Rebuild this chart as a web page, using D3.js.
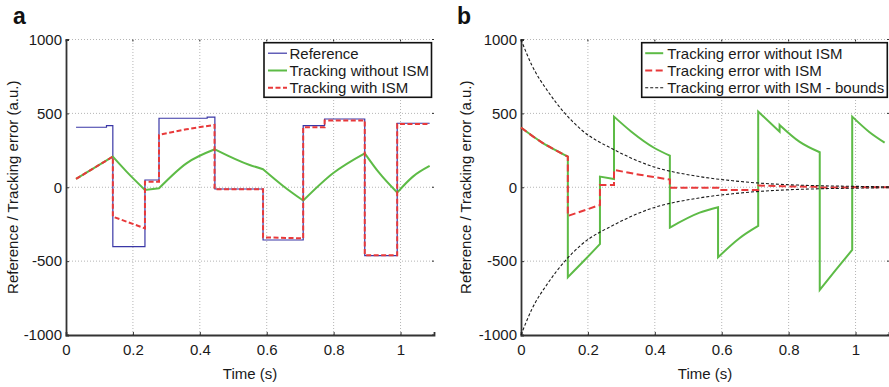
<!DOCTYPE html>
<html>
<head>
<meta charset="utf-8">
<script src="https://cdn.jsdelivr.net/npm/d3@7"></script>
<style>
  html, body { margin: 0; padding: 0; background: #fff; }
  svg { display: block; font-family: "Liberation Sans", Arial, Helvetica, sans-serif; }
</style>
</head>
<body>
<svg id="chart" width="889" height="387"></svg>
<script>
// Axis ticks shared by both panels
const timeTicks = [0, 0.2, 0.4, 0.6, 0.8, 1];
const valueTicks = [-1000, -500, 0, 500, 1000];

// Panel a: reference signal (step changes) and tracked outputs
const referenceA = [
  [0.03, 406], [0.121, 406], [0.121, 417], [0.14, 417], [0.14, -402], [0.236, -402],
  [0.236, 49], [0.278, 49], [0.278, 467], [0.422, 467], [0.422, 474], [0.445, 474],
  [0.445, -12], [0.589, -12], [0.589, -357], [0.709, -357], [0.709, 417], [0.773, 417],
  [0.773, 462], [0.893, 462], [0.893, -463], [0.99, -463], [0.99, 433], [1.087, 433]
];
// smooth pieces; consecutive pieces are joined by straight segments
const trackingNoIsmA = [
  [[0.03, 56], [0.082, 128], [0.14, 207]],
  [[0.14, 207], [0.181, 106], [0.236, -18]],
  [[0.236, -18], [0.278, -7]],
  [[0.278, -7], [0.36, 162], [0.445, 257]],
  [[0.445, 257], [0.549, 151], [0.589, 122]],
  [[0.589, 122], [0.649, 9], [0.709, -90]],
  [[0.709, -90], [0.798, 95], [0.893, 230]],
  [[0.893, 230], [0.937, 95], [0.99, -36]],
  [[0.99, -36], [1.037, 72], [1.087, 144]]
];
const trackingIsmA = [
  [[0.03, 56], [0.082, 128], [0.14, 207]],
  [[0.14, -199], [0.236, -278]],
  [[0.236, 38], [0.278, 38]],
  [[0.278, 354], [0.36, 392], [0.444, 422]],
  [[0.444, -14], [0.589, -14]],
  [[0.589, -339], [0.709, -346]],
  [[0.709, 406], [0.773, 406]],
  [[0.773, 451], [0.893, 451]],
  [[0.893, -460], [0.99, -460]],
  [[0.99, 428], [1.087, 428]]
];

// Panel b: tracking errors and the error bounds with ISM
const errorNoIsmB = [
  [[0, 404], [0.062, 304], [0.121, 230], [0.14, 207]],
  [[0.14, -609], [0.186, -503], [0.236, -384]],
  [[0.236, 72], [0.278, 56]],
  [[0.278, 478], [0.33, 376], [0.4, 264], [0.445, 214]],
  [[0.445, -273], [0.534, -172], [0.589, -135]],
  [[0.589, -474], [0.653, -345], [0.709, -262]],
  [[0.709, 512], [0.773, 376]],
  [[0.773, 422], [0.832, 309], [0.893, 237]],
  [[0.893, -695], [0.941, -560], [0.99, -424]],
  [[0.99, 478], [1.04, 376], [1.087, 302]]
];
const errorIsmB = [
  [[0, 404], [0.062, 304], [0.121, 230], [0.14, 207]],
  [[0.14, -194], [0.236, -120]],
  [[0.236, 16], [0.278, 16]],
  [[0.278, 117], [0.355, 85], [0.445, 52]],
  [[0.445, -3], [0.589, -3]],
  [[0.589, -18], [0.709, -18]],
  [[0.709, 12], [0.8, 6], [0.893, 2]],
  [[0.893, -2], [0.99, -1]],
  [[0.99, 1], [1.1, 0]]
];
const boundUpperB = [
  [0, 1000], [0.032, 828], [0.081, 647], [0.131, 501], [0.181, 388], [0.28, 252],
  [0.38, 151], [0.534, 72], [0.633, 44], [0.732, 25], [0.881, 11], [1.0, 6], [1.1, 3]
];
const boundLowerB = [
  [0, -1000], [0.032, -828], [0.081, -647], [0.131, -501], [0.181, -388], [0.28, -252],
  [0.38, -151], [0.534, -72], [0.633, -44], [0.732, -25], [0.881, -11], [1.0, -6], [1.1, -3]
];

const legendA = ["Reference", "Tracking without ISM", "Tracking with ISM"];
const legendB = ["Tracking error without ISM", "Tracking error with ISM", "Tracking error with ISM - bounds"];

const COLORS = { blue: "#3a37a6", green: "#5dbb46", red: "#e8393a", black: "#1a1a1a" };
const FONT = 15;

const svg = d3.select("#chart");

function makePanel(cfg) {
  const x = d3.scaleLinear().domain([0, 1.1]).range([cfg.left, cfg.right]);
  const y = d3.scaleLinear().domain([-1000, 1000]).range([335, 39.5]);
  const g = svg.append("g");

  // dotted grid
  g.append("g").selectAll("line").data(timeTicks.slice(1)).join("line")
    .attr("x1", d => x(d)).attr("x2", d => x(d)).attr("y1", y(-1000)).attr("y2", y(1000))
    .attr("stroke", "#b5b5b5").attr("stroke-width", 1).attr("stroke-dasharray", "1,2");
  g.append("g").selectAll("line").data(valueTicks.slice(1)).join("line")
    .attr("x1", x(0)).attr("x2", x(1.1)).attr("y1", d => y(d)).attr("y2", d => y(d))
    .attr("stroke", "#b5b5b5").attr("stroke-width", 1).attr("stroke-dasharray", "1,2");

  // axes with inward ticks
  const ax = g.append("g").attr("transform", `translate(0,${y(-1000)})`)
    .call(d3.axisBottom(x).tickValues(timeTicks).tickSize(-3).tickPadding(9).tickFormat(d3.format("")));
  const ay = g.append("g").attr("transform", `translate(${x(0)},0)`)
    .call(d3.axisLeft(y).tickValues(valueTicks).tickSize(-3).tickPadding(4).tickFormat(d => String(d)));
  [ax, ay].forEach(a => {
    a.select(".domain").attr("stroke", "#333").attr("stroke-width", 1.8);
    a.selectAll(".tick line").attr("stroke", "#333");
    a.selectAll(".tick text").attr("font-size", FONT).attr("fill", "#1a1a1a")
      .attr("font-family", "Liberation Sans, Arial, sans-serif");
  });
  ax.selectAll(".tick text").attr("dy", "0.71em");

  // small ticks on the top and right edges
  g.append("g").selectAll("line").data(timeTicks).join("line")
    .attr("x1", d => x(d)).attr("x2", d => x(d)).attr("y1", y(1000)).attr("y2", y(1000) + 2)
    .attr("stroke", "#333");
  g.append("g").selectAll("line").data(valueTicks).join("line")
    .attr("x1", x(1.1) - 2).attr("x2", x(1.1)).attr("y1", d => y(d)).attr("y2", d => y(d))
    .attr("stroke", "#333");

  // axis titles
  g.append("text").attr("x", (cfg.left + cfg.right) / 2).attr("y", 379)
    .attr("text-anchor", "middle").attr("font-size", FONT).attr("fill", "#1a1a1a").text("Time (s)");
  g.append("text").attr("transform", `translate(${cfg.ylabelX},${(y(1000) + y(-1000)) / 2}) rotate(-90)`)
    .attr("text-anchor", "middle").attr("font-size", FONT).attr("fill", "#1a1a1a")
    .text("Reference / Tracking error (a.u.)");

  // panel letter
  g.append("text").attr("x", cfg.letterX).attr("y", 24).attr("font-size", 23)
    .attr("font-weight", "bold").attr("fill", "#111").text(cfg.letter);

  const plot = g.append("g");
  return { x, y, g, plot };
}

// Builds one continuous path from smooth pieces joined by straight segments
function piecewisePath(pieces, x, y) {
  const smooth = d3.line().x(d => x(d[0])).y(d => y(d[1])).curve(d3.curveMonotoneX);
  return pieces.map((p, i) => {
    const s = p.length === 1 ? `M${x(p[0][0])},${y(p[0][1])}` : smooth(p);
    return i === 0 ? s : "L" + s.slice(1);
  }).join("");
}

function drawLegend(g, box, entries) {
  const lg = g.append("g");
  lg.append("rect").attr("x", box.x).attr("y", box.y).attr("width", box.w).attr("height", box.h)
    .attr("fill", "#fff").attr("stroke", "#111").attr("stroke-width", 1.6);
  entries.forEach((e, i) => {
    const cy = box.y + 10.5 + i * 17.3;
    lg.append("line").attr("x1", box.x + box.lineX0).attr("x2", box.x + box.lineX1)
      .attr("y1", cy).attr("y2", cy)
      .attr("stroke", e.color).attr("stroke-width", e.width).attr("stroke-dasharray", e.dash || null);
    lg.append("text").attr("x", box.x + box.textX).attr("y", cy + 5.3)
      .attr("font-size", FONT).attr("fill", "#1a1a1a").text(e.label);
  });
}

// ---- Panel a ----
const pa = makePanel({ left: 66, right: 434, letter: "a", letterX: 13, ylabelX: 18.3 });
pa.plot.append("path").attr("d", d3.line().x(d => pa.x(d[0])).y(d => pa.y(d[1]))(referenceA))
  .attr("fill", "none").attr("stroke", COLORS.blue).attr("stroke-width", 1.2);
pa.plot.append("path").attr("d", piecewisePath(trackingNoIsmA, pa.x, pa.y))
  .attr("fill", "none").attr("stroke", COLORS.green).attr("stroke-width", 2);
pa.plot.append("path").attr("d", piecewisePath(trackingIsmA, pa.x, pa.y))
  .attr("fill", "none").attr("stroke", COLORS.red).attr("stroke-width", 2).attr("stroke-dasharray", "5,2.5");
drawLegend(pa.g, { x: 264, y: 42.7, w: 167.5, h: 54.6, lineX0: 4, lineX1: 23, textX: 25.5 }, [
  { label: legendA[0], color: COLORS.blue, width: 1.2 },
  { label: legendA[1], color: COLORS.green, width: 2 },
  { label: legendA[2], color: COLORS.red, width: 2, dash: "5,2.5" }
]);

// ---- Panel b ----
const pb = makePanel({ left: 521, right: 889, letter: "b", letterX: 457, ylabelX: 470.7 });
pb.plot.append("path").attr("d", piecewisePath(errorNoIsmB, pb.x, pb.y))
  .attr("fill", "none").attr("stroke", COLORS.green).attr("stroke-width", 2);
pb.plot.append("path").attr("d", piecewisePath(errorIsmB, pb.x, pb.y))
  .attr("fill", "none").attr("stroke", COLORS.red).attr("stroke-width", 2).attr("stroke-dasharray", "7,3.5");
[boundUpperB, boundLowerB].forEach(b => {
  pb.plot.append("path").attr("d", d3.line().x(d => pb.x(d[0])).y(d => pb.y(d[1])).curve(d3.curveMonotoneX)(b))
    .attr("fill", "none").attr("stroke", COLORS.black).attr("stroke-width", 1.1).attr("stroke-dasharray", "3,2");
});
drawLegend(pb.g, { x: 641.7, y: 42.7, w: 245.6, h: 54.6, lineX0: 3.5, lineX1: 21.5, textX: 25.5 }, [
  { label: legendB[0], color: COLORS.green, width: 2 },
  { label: legendB[1], color: COLORS.red, width: 2, dash: "7,3.5" },
  { label: legendB[2], color: COLORS.black, width: 1.1, dash: "3,2" }
]);
</script>
</body>
</html>
